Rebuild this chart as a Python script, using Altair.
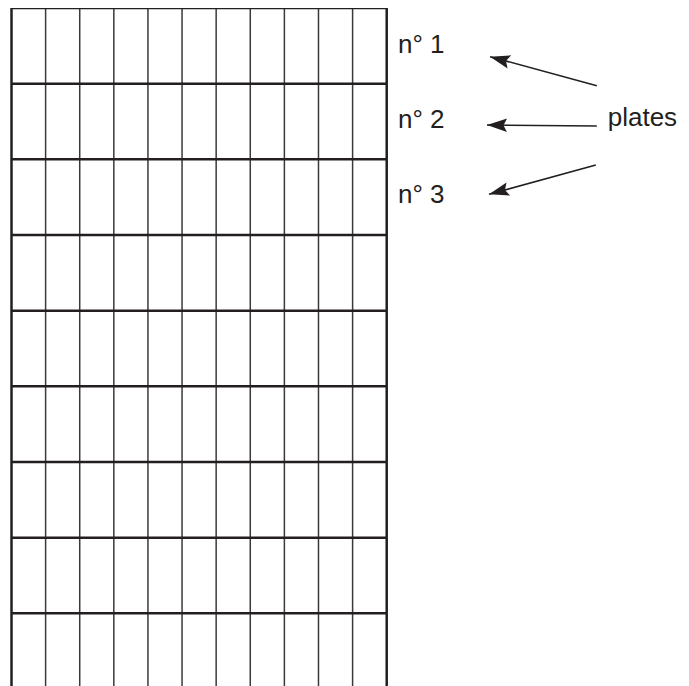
import altair as alt
import pandas as pd
import numpy as np

# Grid geometry in cell units
n_cols = 11
h_lines = [0, 1, 2, 3, 4, 5, 6, 7, 8]          # row boundaries (horizontal rules)
v_inner = list(range(1, n_cols))               # inner vertical rules
v_outer = [0, n_cols]                          # outer border

# Labels
labels = ["n° 1", "n° 2", "n° 3"]
label_x = [11.33, 11.33, 11.33]
label_y = [0.60, 1.59, 2.575]
side_text = ["plates"]
side_x = [17.48]
side_y = [1.56]

# Arrows: tail -> tip
arrow_x_tail = [17.16, 17.16, 17.13]
arrow_y_tail = [1.027, 1.56, 2.075]
arrow_x_tip = [14.03, 13.94, 14.00]
arrow_y_tip = [0.643, 1.546, 2.462]

PX_X = 34.11
PX_Y = 75.67
W, H = 673, 678
xdom = [-3.5 / PX_X, (W - 3.5) / PX_X]
ydom = [0, H / PX_Y]
xs = alt.Scale(domain=xdom, nice=False, zero=False)
ys = alt.Scale(domain=ydom, nice=False, zero=False, reverse=True)
ybot = ydom[1]

hdf = pd.DataFrame({"y": h_lines, "x": 0, "x2": n_cols})
vin = pd.DataFrame({"x": v_inner, "y": 0, "y2": ybot})
vout = pd.DataFrame({"x": v_outer, "y": 0, "y2": ybot})

X = lambda f: alt.X(f, type="quantitative", scale=xs, axis=None)
Y = lambda f: alt.Y(f, type="quantitative", scale=ys, axis=None)

inner = alt.Chart(vin).mark_rule(color="#3a3a3a", strokeWidth=1.5).encode(
    x=X("x"), y=Y("y"), y2="y2")
outer = alt.Chart(vout).mark_rule(color="#231f20", strokeWidth=2.5).encode(
    x=X("x"), y=Y("y"), y2="y2")
horiz = alt.Chart(hdf).mark_rule(color="#231f20", strokeWidth=2.5).encode(
    x=X("x"), x2="x2", y=Y("y"))

lab = alt.Chart(pd.DataFrame({"t": labels, "x": label_x, "y": label_y})).mark_text(
    align="left", baseline="alphabetic", fontSize=26, font="Liberation Sans", color="#231f20"
).encode(x=X("x"), y=Y("y"), text="t:N")
side = alt.Chart(pd.DataFrame({"t": side_text, "x": side_x, "y": side_y})).mark_text(
    align="left", baseline="alphabetic", fontSize=26, font="Liberation Sans", color="#231f20"
).encode(x=X("x"), y=Y("y"), text="t:N")

adf = pd.DataFrame({"x": arrow_x_tail, "y": arrow_y_tail,
                    "x2": arrow_x_tip, "y2": arrow_y_tip})
# angle of arrowhead (screen degrees, clockwise rotation of a left-pointing head)
dx = (np.array(arrow_x_tip) - np.array(arrow_x_tail)) * PX_X
dy = (np.array(arrow_y_tip) - np.array(arrow_y_tail)) * PX_Y
ang = (np.degrees(np.arctan2(dy, dx)) - 180) % 360
adf["ang"] = ang
shaft = alt.Chart(adf).mark_rule(color="#231f20", strokeWidth=1.6).encode(
    x=X("x"), y=Y("y"), x2="x2", y2="y2")
head = alt.Chart(adf).mark_point(
    shape="M 0 0 L 2 -0.68 L 1.65 0 L 2 0.68 Z", size=400, filled=True,
    color="#231f20", opacity=1, strokeWidth=0
).encode(x=X("x2"), y=Y("y2"),
         angle=alt.Angle("ang:Q", scale=alt.Scale(domain=[0, 360], range=[0, 360])))

chart = alt.layer(inner, horiz, outer, shaft, head, lab, side).properties(
    width=W, height=H, padding=0, autosize=alt.AutoSizeParams(type="none")
).configure_view(stroke=None)

chart.save("out.html", embed_options={"renderer": "svg", "actions": False})
